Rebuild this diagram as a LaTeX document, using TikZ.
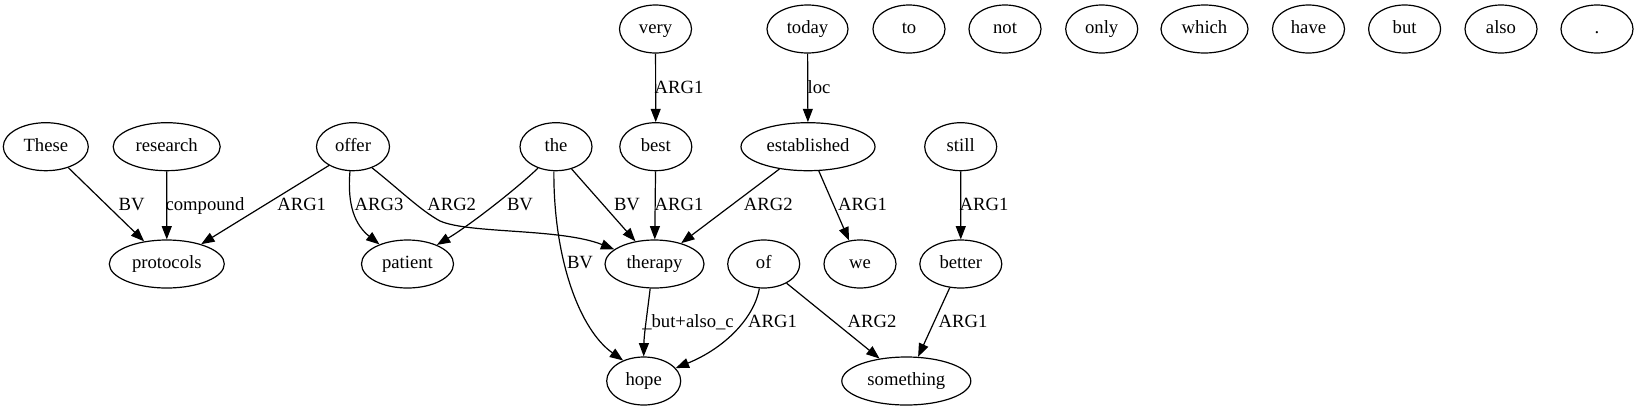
\documentclass[tikz,border=0pt]{standalone}
\usepackage{fontspec}
\setmainfont{Liberation Serif}
\usetikzlibrary{arrows.meta,shapes.geometric}
\begin{document}
\begin{tikzpicture}[x=0.75pt,y=-0.75pt,
  nd/.style={draw,ellipse,line width=0.9pt,minimum height=36pt,minimum width=54pt,inner sep=0pt,
    text height=9.5pt,text depth=3pt,font=\fontsize{14}{16}\selectfont},
  lbl/.style={font=\fontsize{14}{16}\selectfont,inner sep=0pt,text height=9.5pt,text depth=3pt},
  arr/.style={draw,line width=0.9pt,-{Triangle[length=10pt,width=7.5pt]}}]
\useasboundingbox (0,0) rectangle (1637,411);
% top row
\node[nd] (very) at (655.5,29) {very};
\node[nd,minimum width=60.75pt] (today) at (807.5,29) {today};
\node[nd] (to) at (909,29) {to};
\node[nd] (not) at (1005,29) {not};
\node[nd] (only) at (1101.7,29) {only};
\node[nd,minimum width=65.25pt] (which) at (1204.5,29) {which};
\node[nd] (have) at (1308.5,29) {have};
\node[nd] (but) at (1404.6,29) {but};
\node[nd] (also) at (1501,29) {also};
\node[nd] (dot) at (1597,29) {.};
% second row
\node[nd,minimum width=63.75pt] (These) at (45.8,146.7) {These};
\node[nd,minimum width=80.25pt] (research) at (166.7,146.7) {research};
\node[nd,minimum width=54.75pt] (offer) at (353,146.7) {offer};
\node[nd] (the) at (556,146.7) {the};
\node[nd] (best) at (655.8,146.7) {best};
\node[nd,minimum width=100.5pt] (established) at (808,146.7) {established};
\node[nd] (still) at (960.7,146.7) {still};
% third row
\node[nd,minimum width=86.25pt] (protocols) at (166.8,264) {protocols};
\node[nd,minimum width=69pt] (patient) at (407.5,264) {patient};
\node[nd,minimum width=74.25pt] (therapy) at (654.5,264) {therapy};
\node[nd] (of) at (763.7,264) {of};
\node[nd] (we) at (860,264) {we};
\node[nd,minimum width=61.5pt] (better) at (960.8,264) {better};
% fourth row
\node[nd,minimum width=55.5pt] (hope) at (643.7,381) {hope};
\node[nd,minimum width=96.75pt] (something) at (906.3,381) {something};
% edges
\draw[arr] (These.-43) -- (protocols.135);
\draw[arr] (research) -- (protocols);
\draw[arr] (offer.-142) -- (protocols.30);
\draw[arr] (offer.-97) .. controls (347,205) and (355,225) .. (patient.145);
\draw[arr] (offer.-48) .. controls (400,190) and (420,210) .. (440,221) .. controls (470,234) and (560,228) .. (therapy.160);
\draw[arr] (the.-130) .. controls (515,190) and (470,225) .. (patient.33);
\draw[arr] (the.-55) -- (therapy.130);
\draw[arr] (the.-95) .. controls (553.5,260) and (580,330) .. (hope.135);
\draw[arr] (best) -- (therapy);
\draw[arr] (established.-142) -- (therapy.38);
\draw[arr] (established.-66) -- (we.115);
\draw[arr] (still) -- (better);
\draw[arr] (very) -- (best);
\draw[arr] (today) -- (established);
\draw[arr] (therapy.-100) .. controls (647,315) and (644,335) .. (hope.north);
\draw[arr] (of.-100) .. controls (754,318) and (725,348) .. (hope.22);
\draw[arr] (of.-40) -- (something.140);
\draw[arr] (better.-115) -- (something.64);
% labels
\node[lbl] (l1) at (131.7,206.5) {BV};
\node[lbl] (l2) at (205,206.5) {compound};
\node[lbl] (l3) at (301.7,206.5) {ARG1};
\node[lbl] (l4) at (379,206.5) {ARG3};
\node[lbl] (l5) at (451.7,206.5) {ARG2};
\node[lbl] (l6) at (520,206.5) {BV};
\node[lbl] (l7) at (627,206.5) {BV};
\node[lbl] (l8) at (679,206.5) {ARG1};
\node[lbl] (l9) at (768.3,206.5) {ARG2};
\node[lbl] (l10) at (862.5,206.5) {ARG1};
\node[lbl] (l11) at (984,206.5) {ARG1};
\node[lbl] (l12) at (679,89.5) {ARG1};
\node[lbl] (l13) at (819,89.5) {loc};
\node[lbl] (l14) at (580,264.5) {BV};
\node[lbl] (l15) at (688,323) {\_but+also\_c};
\node[lbl] (l16) at (772.5,323) {ARG1};
\node[lbl] (l17) at (872,323) {ARG2};
\node[lbl] (l18) at (963,323) {ARG1};
\end{tikzpicture}
\end{document}
